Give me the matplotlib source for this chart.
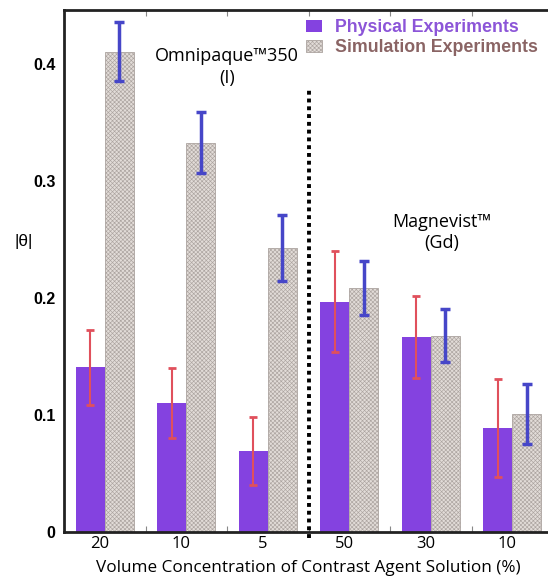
import matplotlib
matplotlib.use("Agg")
import matplotlib.pyplot as plt
from matplotlib.patches import Patch
import numpy as np

# values
conc_labels = ["20", "10", "5", "50", "30", "10"]
physical = [0.141, 0.110, 0.069, 0.197, 0.167, 0.089]
physical_err = [0.032, 0.030, 0.029, 0.043, 0.035, 0.042]
simulation = [0.411, 0.333, 0.243, 0.209, 0.168, 0.101]
simulation_err = [0.025, 0.026, 0.028, 0.023, 0.023, 0.026]

PURPLE = "#8442e0"
SIM_FACE = "#e2dcd8"
SIM_HATCH = "#aca4a0"
RED = "#e0505c"
BLUE = "#4646c8"

plt.rcParams["hatch.linewidth"] = 0.45

fig = plt.figure(figsize=(5.48, 5.79), dpi=100)
ax = fig.add_axes([64 / 548, 1 - 532 / 579, 489 / 548, 522 / 579])

x = np.arange(len(conc_labels))
w = 0.355

ax.bar(x - w / 2, physical, w, color=PURPLE, linewidth=0, zorder=2)
ax.bar(x + w / 2, simulation, w, color=SIM_FACE, edgecolor=SIM_HATCH,
       hatch="xxxxxxxx", linewidth=0.6, zorder=2)

ax.errorbar(x - w / 2, physical, yerr=physical_err, fmt="none", ecolor=RED,
            elinewidth=1.5, capsize=3, capthick=2, zorder=3)
ax.errorbar(x + w / 2, simulation, yerr=simulation_err, fmt="none", ecolor=BLUE,
            elinewidth=2.5, capsize=3.5, capthick=2.5, zorder=3)

# divider between the two contrast agents
ax.plot([2.5, 2.5], [-0.005, 0.379], color="black", linestyle=(0, (1, 1)),
        linewidth=2.8, clip_on=False, zorder=4)

ax.set_xlim(-0.5, 5.5)
ax.set_ylim(0, 0.4465)

ax.set_xticks(x - 0.06)
ax.set_xticklabels(conc_labels, family="Open Sans", fontsize=12)
ax.set_xticks(np.arange(0.5, 5.5, 1), minor=True)
ax.tick_params(axis="x", which="major", length=0, pad=3)
ax.tick_params(axis="x", which="minor", direction="in", length=4, width=0.8,
               color="#888888", top=True, bottom=True)

ax.set_yticks([0, 0.1, 0.2, 0.3, 0.4])
ax.set_yticklabels(["0", "0.1", "0.2", "0.3", "0.4"], family="Liberation Sans",
                   fontweight="bold", fontsize=11.5)
ax.tick_params(axis="y", length=0, pad=6)

ax.set_xlabel("Volume Concentration of Contrast Agent Solution (%)",
              family="Open Sans", fontsize=12.3, labelpad=6)
ax.text(-0.082, 0.556, "|θ|", transform=ax.transAxes, family="Liberation Sans",
        fontsize=12.5, ha="center", va="center")

for side in ["left", "bottom", "top", "right"]:
    ax.spines[side].set_linewidth(2)
    ax.spines[side].set_color("#222222")

ax.text(1.5, 0.398, "Omnipaque™350\n(I)", family="Open Sans", fontsize=13,
        ha="center", va="center", linespacing=1.3)
ax.text(4.14, 0.256, "Magnevist™\n(Gd)", family="Open Sans", fontsize=13,
        ha="center", va="center", linespacing=1.2)

handles = [Patch(facecolor=PURPLE, linewidth=0),
           Patch(facecolor=SIM_FACE, edgecolor=SIM_HATCH, hatch="xxxxxxxx", linewidth=0.6)]
leg = ax.legend(handles, ["Physical Experiments", "Simulation Experiments"],
                loc="upper left", bbox_to_anchor=(0.495, 0.982), frameon=False,
                prop={"family": "Liberation Sans", "weight": "bold", "size": 12.8},
                handlelength=0.9, handleheight=0.7, handletextpad=0.73,
                labelspacing=0.15, borderpad=0, borderaxespad=0,
                labelcolor=["#8c55d8", "#8a6464"])

fig.savefig("out.png", dpi=100)
